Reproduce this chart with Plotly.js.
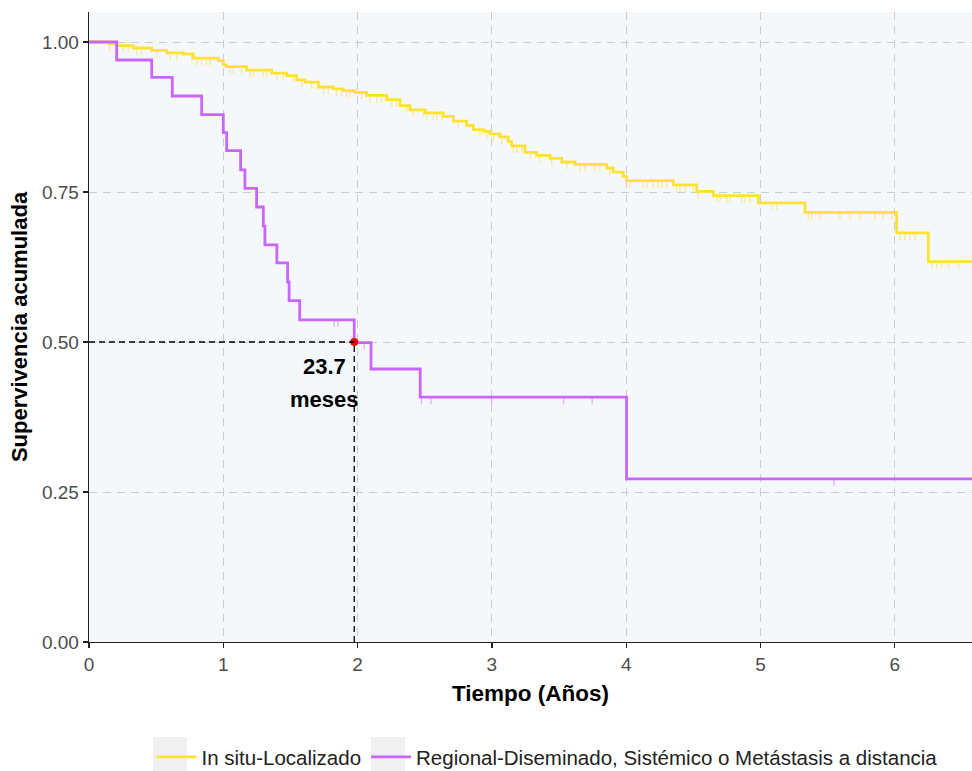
<!DOCTYPE html>
<html>
<head>
<meta charset="utf-8">
<script src="https://cdn.plot.ly/plotly-3.0.1.min.js"></script>
<style>html,body{margin:0;padding:0;background:#fff}#chart{width:972px;height:771px}</style>
</head>
<body>
<div id="chart"></div>
<script>
// ---- data (years / cumulative survival) ----
const seriesNames = ["In situ-Localizado", "Regional-Diseminado, Sistémico o Metástasis a distancia"];

const localTimes = [0, 0.15, 0.206, 0.330, 0.467, 0.578, 0.702, 0.777, 0.963, 1.000, 1.025, 1.174, 1.360, 1.472, 1.546, 1.608, 1.708, 1.819, 1.894, 1.981, 2.068, 2.217, 2.316, 2.390, 2.502, 2.638, 2.713, 2.812, 2.862, 2.940, 2.986, 3.060, 3.122, 3.147, 3.246, 3.333, 3.433, 3.520, 3.619, 3.855, 3.904, 3.978, 4.003, 4.351, 4.525, 4.649, 4.984, 5.331, 6.014, 6.250, 6.700];
const localSurv  = [1.000, 0.997, 0.994, 0.990, 0.986, 0.982, 0.980, 0.973, 0.969, 0.962, 0.959, 0.953, 0.948, 0.944, 0.937, 0.933, 0.925, 0.922, 0.919, 0.916, 0.911, 0.904, 0.894, 0.887, 0.882, 0.876, 0.868, 0.861, 0.854, 0.851, 0.847, 0.842, 0.834, 0.827, 0.816, 0.811, 0.806, 0.800, 0.796, 0.790, 0.783, 0.776, 0.769, 0.762, 0.751, 0.744, 0.732, 0.716, 0.682, 0.634, 0.634];
const localCensor = [0.156, 0.256, 0.293, 0.355, 0.392, 0.504, 0.603, 0.653, 0.765, 0.802, 0.839, 0.876, 0.901, 1.050, 1.074, 1.137, 1.199, 1.224, 1.298, 1.323, 1.398, 1.447, 1.521, 1.584, 1.658, 1.745, 1.782, 1.844, 1.882, 1.919, 1.943, 2.031, 2.092, 2.142, 2.179, 2.254, 2.291, 2.366, 2.415, 2.490, 2.514, 2.564, 2.589, 2.626, 2.750, 2.911, 2.961, 3.011, 3.073, 3.159, 3.185, 3.222, 3.284, 3.358, 3.445, 3.557, 3.656, 3.693, 3.768, 3.805, 3.879, 4.028, 4.127, 4.153, 4.202, 4.239, 4.264, 4.302, 4.376, 4.401, 4.438, 4.500, 4.537, 4.674, 4.698, 4.748, 4.773, 4.860, 4.885, 4.922, 5.083, 5.120, 5.356, 5.381, 5.443, 5.592, 5.666, 5.741, 5.853, 5.914, 5.977, 6.039, 6.076, 6.113, 6.150, 6.275, 6.312, 6.350, 6.400, 6.475];

const regTimes = [0, 0.206, 0.467, 0.620, 0.839, 1.000, 1.025, 1.129, 1.161, 1.248, 1.298, 1.310, 1.399, 1.479, 1.490, 1.569, 1.975, 2.100, 2.466, 4.003, 6.700];
const regSurv  = [1.000, 0.970, 0.941, 0.910, 0.879, 0.849, 0.819, 0.787, 0.756, 0.725, 0.693, 0.662, 0.632, 0.600, 0.569, 0.537, 0.499, 0.455, 0.408, 0.272, 0.272];
const regCensor = [1.826, 1.854, 2.050, 2.475, 2.546, 2.998, 3.534, 3.747, 5.547];

const medianMonths = 23.7;
const medianSurv = 0.5;
const xTickVals = [0, 1, 2, 3, 4, 5, 6];
const yTickVals = [0, 0.25, 0.5, 0.75, 1.0];

// ---- helpers ----
function survAt(times, surv, t) {
  let s = surv[0];
  for (let i = 0; i < times.length; i++) if (times[i] <= t) s = surv[i];
  return s;
}
const medianYears = medianMonths / 12;

const colLocal = "#FFE135";
const colReg = "#C966FF";

function censorTrace(times, surv, cens, color) {
  return {
    x: cens, y: cens.map(t => survAt(times, surv, t)),
    type: "scatter", mode: "markers", showlegend: false, hoverinfo: "skip",
    marker: {size: 1, opacity: 0},
    error_y: {type: "constant", symmetric: false, value: 0, valueminus: 0.012, width: 0, thickness: 1.4, color: color}
  };
}

const traces = [
  censorTrace(localTimes, localSurv, localCensor, "rgba(255,222,60,0.5)"),
  censorTrace(regTimes, regSurv, regCensor, "rgba(201,102,255,0.45)"),
  {x: localTimes, y: localSurv, type: "scatter", mode: "lines", name: seriesNames[0],
   line: {shape: "hv", color: colLocal, width: 2.8}, hoverinfo: "x+y"},
  {x: regTimes, y: regSurv, type: "scatter", mode: "lines", name: seriesNames[1],
   line: {shape: "hv", color: colReg, width: 2.8}, hoverinfo: "x+y"},
  {x: [medianYears], y: [medianSurv], type: "scatter", mode: "markers", showlegend: false,
   marker: {color: "#FF0000", size: 8}, hoverinfo: "skip"}
];

const font = "'Liberation Sans', Arial, sans-serif";
const layout = {
  width: 972, height: 771,
  margin: {l: 89, r: 0, t: 12, b: 129, autoexpand: false},
  paper_bgcolor: "#FFFFFF",
  plot_bgcolor: "#F5F8FB",
  font: {family: font, color: "#222"},
  showlegend: true,
  legend: {orientation: "h", x: 0.0708, xanchor: "left", xref: "paper",
           y: 0.018, yanchor: "middle", yref: "container", itemwidth: 40,
           font: {size: 20.5, color: "#222", family: font}, bgcolor: "rgba(0,0,0,0)",
           traceorder: "normal"},
  xaxis: {
    range: [0, 6.575], tickvals: xTickVals, ticktext: xTickVals.map(String),
    showgrid: true, gridcolor: "#CDCDCD", griddash: "8px,6px", gridwidth: 1,
    zeroline: false, showline: true, linecolor: "#222", linewidth: 1.3,
    ticks: "outside", ticklen: 5, tickcolor: "#222", tickwidth: 1.3,
    tickfont: {size: 19, color: "#4D4D4D", family: font},
    title: {text: "<b>Tiempo (Años)</b>", font: {size: 22.5, color: "#000", family: font}, standoff: 11}
  },
  yaxis: {
    range: [0, 1.05], tickvals: yTickVals, ticktext: yTickVals.map(v => v.toFixed(2)),
    showgrid: true, gridcolor: "#CDCDCD", griddash: "8px,6px", gridwidth: 1,
    zeroline: false, showline: true, linecolor: "#222", linewidth: 1.3,
    ticks: "outside", ticklen: 5, tickcolor: "#222", tickwidth: 1.3,
    tickfont: {size: 19, color: "#4D4D4D", family: font},
    title: {text: "<b>Supervivencia acumulada</b>", font: {size: 22, color: "#000", family: font}, standoff: 8}
  },
  shapes: [
    {type: "line", xref: "x", yref: "y", x0: 0, x1: medianYears, y0: medianSurv, y1: medianSurv,
     line: {color: "#000", width: 1.3, dash: "6px,4px"}},
    {type: "line", xref: "x", yref: "y", x0: medianYears, x1: medianYears, y0: 0, y1: medianSurv,
     line: {color: "#000", width: 1.3, dash: "6px,4px"}},
    {type: "rect", xref: "paper", yref: "paper", x0: 0.0725, x1: 0.1110, y0: -0.1508, y1: -0.2048,
     fillcolor: "#F0F0F0", line: {width: 0}, layer: "below"},
    {type: "rect", xref: "paper", yref: "paper", x0: 0.3194, x1: 0.3579, y0: -0.1508, y1: -0.2048,
     fillcolor: "#F0F0F0", line: {width: 0}, layer: "below"}
  ],
  annotations: [
    {x: 1.75, y: 0.4595, xref: "x", yref: "y", text: "<b>" + medianMonths.toFixed(1) + "</b>",
     showarrow: false, font: {size: 22, color: "#000", family: font}},
    {x: 1.75, y: 0.4045, xref: "x", yref: "y", text: "<b>meses</b>",
     showarrow: false, font: {size: 22, color: "#000", family: font}}
  ]
};

Plotly.newPlot("chart", traces, layout, {displayModeBar: false, staticPlot: true});
</script>
</body>
</html>
